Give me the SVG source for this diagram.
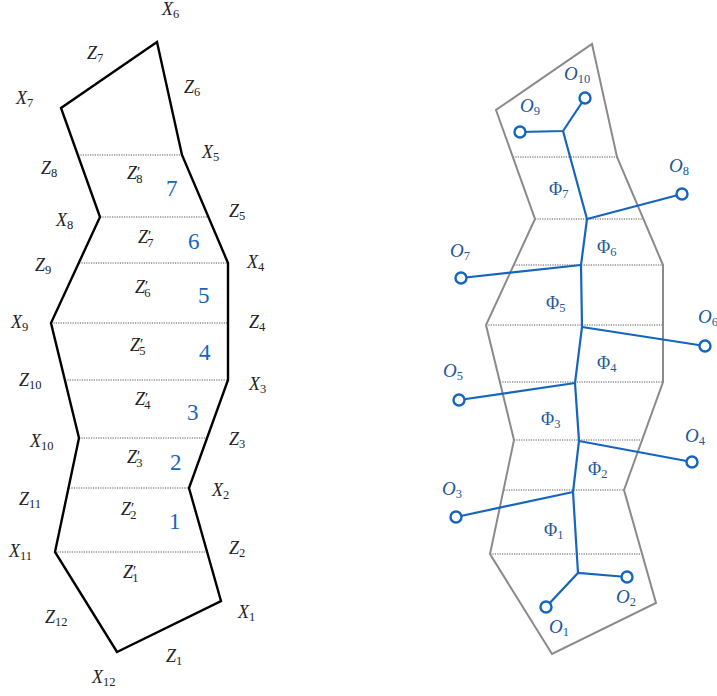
<svg xmlns="http://www.w3.org/2000/svg" width="717" height="696" viewBox="0 0 717 696">
<style>
text{font-family:"Liberation Serif","DejaVu Serif",serif;font-size:18px;fill:#222}
.i{font-style:italic}
.s{font-size:12.5px;font-style:normal}
.p{font-size:15px}
.num{font-size:23px;fill:#1565C0}
.bl{fill:#22579b}
.bl .i{font-size:19px}
.poly{fill:none;stroke:#000;stroke-width:2.4;stroke-linejoin:miter}
.gpoly{fill:none;stroke:#8a8a8a;stroke-width:2}
.dot{stroke:#555;stroke-width:1;stroke-dasharray:1.2 1.2}
.edge{stroke:#1565C0;stroke-width:2.2;fill:none}
.leaf{fill:#fff;stroke:#1565C0;stroke-width:2.4}
</style>
<defs>
<g id="cuts">
<line class="dot" x1="78" y1="155" x2="182" y2="155"/>
<line class="dot" x1="100" y1="217" x2="208" y2="217"/>
<line class="dot" x1="79" y1="263" x2="228" y2="263"/>
<line class="dot" x1="51" y1="323" x2="228" y2="323"/>
<line class="dot" x1="65" y1="380" x2="228" y2="380"/>
<line class="dot" x1="79" y1="438" x2="207" y2="438"/>
<line class="dot" x1="69" y1="488" x2="189" y2="488"/>
<line class="dot" x1="55" y1="552" x2="207" y2="552"/>
</g>
<polygon id="shape" points="221,601 189,488 228,380 228,263 182,155 157,42 61,108 100,217 51,323 79,438 55,552 117,652"/>
</defs>

<g id="left-polygon">
<use href="#cuts"/>
<use href="#shape" class="poly"/>
</g>

<g id="left-labels">
<text x="162" y="15"><tspan class="i">X</tspan><tspan class="s" dy="3">6</tspan></text>
<text x="87" y="59"><tspan class="i">Z</tspan><tspan class="s" dy="3">7</tspan></text>
<text x="184" y="93"><tspan class="i">Z</tspan><tspan class="s" dy="3">6</tspan></text>
<text x="16" y="104"><tspan class="i">X</tspan><tspan class="s" dy="3">7</tspan></text>
<text x="202" y="158"><tspan class="i">X</tspan><tspan class="s" dy="3">5</tspan></text>
<text x="41" y="174"><tspan class="i">Z</tspan><tspan class="s" dy="3">8</tspan></text>
<text x="127" y="179"><tspan class="i">Z</tspan><tspan class="p" dy="-2">′</tspan><tspan class="s" dx="-4" dy="6">8</tspan></text>
<text class="num" x="166" y="196">7</text>
<text x="229" y="217"><tspan class="i">Z</tspan><tspan class="s" dy="3">5</tspan></text>
<text x="56" y="226"><tspan class="i">X</tspan><tspan class="s" dy="3">8</tspan></text>
<text x="138" y="243"><tspan class="i">Z</tspan><tspan class="p" dy="-2">′</tspan><tspan class="s" dx="-4" dy="6">7</tspan></text>
<text class="num" x="188" y="249">6</text>
<text x="35" y="271"><tspan class="i">Z</tspan><tspan class="s" dy="3">9</tspan></text>
<text x="247" y="268"><tspan class="i">X</tspan><tspan class="s" dy="3">4</tspan></text>
<text x="135" y="293"><tspan class="i">Z</tspan><tspan class="p" dy="-2">′</tspan><tspan class="s" dx="-4" dy="6">6</tspan></text>
<text class="num" x="198" y="303">5</text>
<text x="249" y="328"><tspan class="i">Z</tspan><tspan class="s" dy="3">4</tspan></text>
<text x="11" y="328"><tspan class="i">X</tspan><tspan class="s" dy="3">9</tspan></text>
<text x="130" y="351"><tspan class="i">Z</tspan><tspan class="p" dy="-2">′</tspan><tspan class="s" dx="-4" dy="6">5</tspan></text>
<text class="num" x="199" y="360">4</text>
<text x="19" y="386"><tspan class="i">Z</tspan><tspan class="s" dy="3">10</tspan></text>
<text x="249" y="390"><tspan class="i">X</tspan><tspan class="s" dy="3">3</tspan></text>
<text x="135" y="405"><tspan class="i">Z</tspan><tspan class="p" dy="-2">′</tspan><tspan class="s" dx="-4" dy="6">4</tspan></text>
<text class="num" x="187" y="420">3</text>
<text x="30" y="447"><tspan class="i">X</tspan><tspan class="s" dy="3">10</tspan></text>
<text x="229" y="445"><tspan class="i">Z</tspan><tspan class="s" dy="3">3</tspan></text>
<text x="127" y="463"><tspan class="i">Z</tspan><tspan class="p" dy="-2">′</tspan><tspan class="s" dx="-4" dy="6">3</tspan></text>
<text class="num" x="170" y="470">2</text>
<text x="212" y="496"><tspan class="i">X</tspan><tspan class="s" dy="3">2</tspan></text>
<text x="19" y="505"><tspan class="i">Z</tspan><tspan class="s" dy="3">11</tspan></text>
<text x="121" y="515"><tspan class="i">Z</tspan><tspan class="p" dy="-2">′</tspan><tspan class="s" dx="-4" dy="6">2</tspan></text>
<text class="num" x="169" y="529">1</text>
<text x="229" y="554"><tspan class="i">Z</tspan><tspan class="s" dy="3">2</tspan></text>
<text x="9" y="557"><tspan class="i">X</tspan><tspan class="s" dy="3">11</tspan></text>
<text x="123" y="578"><tspan class="i">Z</tspan><tspan class="p" dy="-2">′</tspan><tspan class="s" dx="-4" dy="6">1</tspan></text>
<text x="238" y="618"><tspan class="i">X</tspan><tspan class="s" dy="3">1</tspan></text>
<text x="45" y="623"><tspan class="i">Z</tspan><tspan class="s" dy="3">12</tspan></text>
<text x="166" y="662"><tspan class="i">Z</tspan><tspan class="s" dy="3">1</tspan></text>
<text x="92" y="683"><tspan class="i">X</tspan><tspan class="s" dy="3">12</tspan></text>
</g>

<g id="right-polygon" transform="translate(435,2)">
<use href="#cuts"/>
<use href="#shape" class="gpoly"/>
</g>

<g id="connectors">
<polyline class="edge" points="520,132 563,131 585,98"/>
<polyline class="edge" points="563,131 587,219 581,265 582,327 575,383 579,441 573,492 578,573"/>
<line class="edge" x1="587" y1="219" x2="682" y2="194"/>
<line class="edge" x1="581" y1="265" x2="461" y2="278"/>
<line class="edge" x1="582" y1="327" x2="705" y2="346"/>
<line class="edge" x1="575" y1="383" x2="459" y2="400"/>
<line class="edge" x1="579" y1="441" x2="692" y2="462"/>
<line class="edge" x1="573" y1="492" x2="456" y2="517"/>
<polyline class="edge" points="627,577 578,573 546,607"/>
</g>

<g id="O1"><circle class="leaf" cx="546" cy="607" r="5.5"/><text class="bl" x="549" y="633"><tspan class="i">O</tspan><tspan class="s" dy="3">1</tspan></text></g>
<g id="O2"><circle class="leaf" cx="627" cy="577" r="5.5"/><text class="bl" x="616" y="603"><tspan class="i">O</tspan><tspan class="s" dy="3">2</tspan></text></g>
<g id="O3"><circle class="leaf" cx="456" cy="517" r="5.5"/><text class="bl" x="442" y="495"><tspan class="i">O</tspan><tspan class="s" dy="3">3</tspan></text></g>
<g id="O4"><circle class="leaf" cx="692" cy="462" r="5.5"/><text class="bl" x="685" y="442"><tspan class="i">O</tspan><tspan class="s" dy="3">4</tspan></text></g>
<g id="O5"><circle class="leaf" cx="459" cy="400" r="5.5"/><text class="bl" x="443" y="377"><tspan class="i">O</tspan><tspan class="s" dy="3">5</tspan></text></g>
<g id="O6"><circle class="leaf" cx="705" cy="346" r="5.5"/><text class="bl" x="698" y="323"><tspan class="i">O</tspan><tspan class="s" dy="3">6</tspan></text></g>
<g id="O7"><circle class="leaf" cx="461" cy="278" r="5.5"/><text class="bl" x="450" y="257"><tspan class="i">O</tspan><tspan class="s" dy="3">7</tspan></text></g>
<g id="O8"><circle class="leaf" cx="682" cy="194" r="5.5"/><text class="bl" x="669" y="172"><tspan class="i">O</tspan><tspan class="s" dy="3">8</tspan></text></g>
<g id="O9"><circle class="leaf" cx="520" cy="132" r="5.5"/><text class="bl" x="520" y="112"><tspan class="i">O</tspan><tspan class="s" dy="3">9</tspan></text></g>
<g id="O10"><circle class="leaf" cx="585" cy="98" r="5.5"/><text class="bl" x="564" y="80"><tspan class="i">O</tspan><tspan class="s" dy="3">10</tspan></text></g>

<g id="phi-labels">
<text class="bl" x="549" y="195">Φ<tspan class="s" dy="3">7</tspan></text>
<text class="bl" x="597" y="253">Φ<tspan class="s" dy="3">6</tspan></text>
<text class="bl" x="546" y="309">Φ<tspan class="s" dy="3">5</tspan></text>
<text class="bl" x="597" y="369">Φ<tspan class="s" dy="3">4</tspan></text>
<text class="bl" x="541" y="425">Φ<tspan class="s" dy="3">3</tspan></text>
<text class="bl" x="588" y="475">Φ<tspan class="s" dy="3">2</tspan></text>
<text class="bl" x="544" y="536">Φ<tspan class="s" dy="3">1</tspan></text>
</g>
</svg>
